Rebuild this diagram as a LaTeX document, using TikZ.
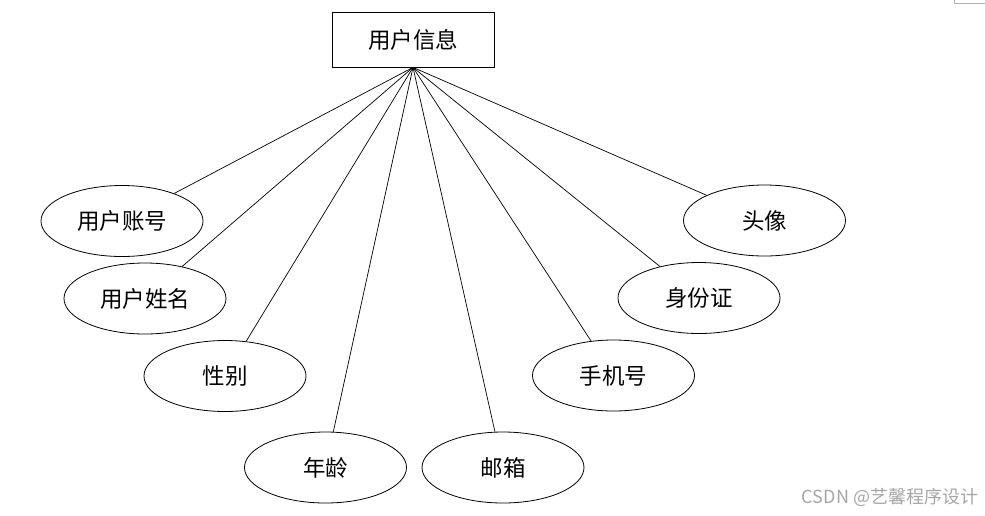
\documentclass[tikz,border=0pt]{standalone}
\usepackage{fontspec}
\setmainfont{Liberation Serif}
\newfontfamily\cjk{Noto Sans CJK SC}
\usetikzlibrary{shapes.geometric}
\begin{document}
\begin{tikzpicture}[x=1pt,y=-1pt,
  entbox/.style={draw,line width=0.8pt,minimum width=162pt,minimum height=55pt,inner sep=0pt,font=\cjk\fontsize{22.5}{22.5}\selectfont},
  attr/.style={draw,ellipse,line width=0.8pt,minimum width=162pt,minimum height=71pt,inner sep=0pt,font=\cjk\fontsize{22.5}{22.5}\selectfont},
  link/.style={line width=0.7pt}]
\useasboundingbox (0,0) rectangle (985,515);
\node[entbox] (ent) at (413,39.5) {用户信息};
\coordinate (hub) at (ent.south);
\node[attr] (a1) at (122,221) {用户账号};
\node[attr] (a2) at (145,298.5) {用户姓名};
\node[attr] (a3) at (225,376) {性别};
\node[attr] (a4) at (325.5,467.5) {年龄};
\node[attr] (a5) at (503,467.5) {邮箱};
\node[attr] (a6) at (613.5,375.5) {手机号};
\node[attr] (a7) at (699,298) {身份证};
\node[attr] (a8) at (764.5,220.5) {头像};
\foreach \n in {a1,a2,a3,a4,a5,a6,a7,a8} \draw[link] (hub) -- (\n);
\node[text=black!35,font=\cjk\fontsize{18}{18}\selectfont,inner sep=0pt] (wm) at (890,497) {CSDN @艺馨程序设计};
\draw[black!30,line width=0.8pt] (954.5,0) -- (954.5,3.5) -- (985,3.5);
\end{tikzpicture}
\end{document}
